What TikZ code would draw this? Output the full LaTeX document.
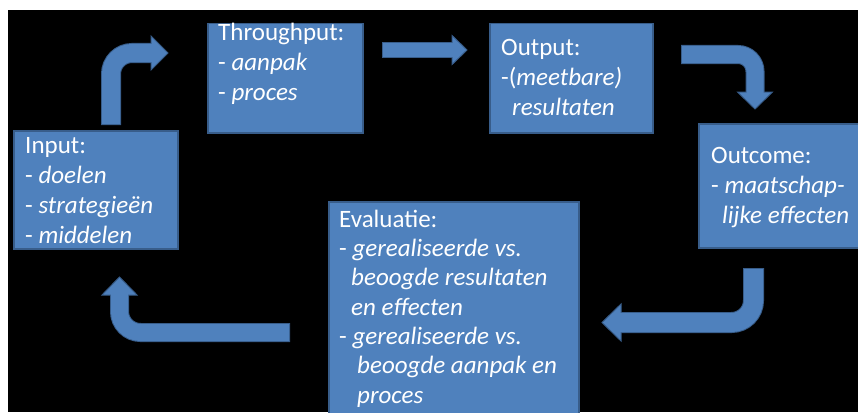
\documentclass[tikz,border=0pt]{standalone}
\usepackage{fontspec}
\setmainfont{Carlito}
\usetikzlibrary{calc}
\definecolor{boxblue}{RGB}{79,129,189}
\definecolor{rimblue}{RGB}{56,93,138}

\tikzset{
  box/.style={draw=rimblue, line width=1.5pt, fill=boxblue, inner sep=0pt, anchor=north west},
  txt/.style={text=white, align=left, anchor=base west, inner sep=0pt, font=\fontsize{25}{30}\selectfont},
  shaftrim/.style={draw=rimblue, line width=#1},
  shaftbody/.style={draw=boxblue, line width=#1},
  pics/head/.style 2 args={code={
    \filldraw[fill=boxblue, draw=rimblue, line width=1pt, line join=miter] (0,0) -- (-#2,#1) -- (-#2,-#1) -- cycle;}},
}

\begin{document}
\begin{tikzpicture}[x=1pt,y=-1pt]
  \useasboundingbox (0,0) rectangle (858,412);
  \clip (0,0) rectangle (858,412);
  \fill[white] (0,0) rectangle (858,412);
  \fill[black] (8,10) rectangle (858,412);

  % the five boxes
  \node[box, minimum width=164pt, minimum height=118pt] (input) at (13,130) {};
  \node[box, minimum width=155pt, minimum height=109pt] (through) at (207,23) {};
  \node[box, minimum width=163pt, minimum height=109pt] (output) at (489,23) {};
  \node[box, minimum width=170pt, minimum height=124pt] (outcome) at (698,123) {};
  \node[box, minimum width=250pt, minimum height=230pt] (eval) at (328,201) {};

  % input -> throughput
  \coordinate (a1) at (111,124);
  \coordinate (a1t) at (168,53);
  \draw[shaftrim=20pt, rounded corners=21pt] ($(a1)+(0,1)$) |- ($(a1t)+(-17,0)$);
  \pic at (a1t) {head={17}{17}};
  \draw[shaftbody=18pt, rounded corners=21pt] (a1) |- ($(a1t)+(-15,0)$);

  % throughput -> output
  \coordinate (a2) at (383,50);
  \coordinate (a2t) at (467,50);
  \draw[shaftrim=16pt] ($(a2)+(-1,0)$) -- ($(a2t)+(-15,0)$);
  \pic at (a2t) {head={14.5}{15}};
  \draw[shaftbody=14pt] (a2) -- ($(a2t)+(-13,0)$);

  % output -> outcome
  \coordinate (a3) at (682,54.5);
  \coordinate (a3t) at (755,109);
  \draw[shaftrim=19pt, rounded corners=17pt] ($(a3)+(-1,0)$) -| ($(a3t)+(0,-17)$);
  \pic[rotate=-90] at (a3t) {head={17.5}{17}};
  \draw[shaftbody=17pt, rounded corners=17pt] (a3) -| ($(a3t)+(0,-15)$);

  % outcome -> evaluatie
  \coordinate (a4) at (753.5,269);
  \coordinate (a4t) at (602,322.5);
  \draw[shaftrim=21pt, rounded corners=22pt] ($(a4)+(0,-1)$) |- ($(a4t)+(19,0)$);
  \pic[rotate=180] at (a4t) {head={18.5}{19}};
  \draw[shaftbody=19pt, rounded corners=22pt] (a4) |- ($(a4t)+(17,0)$);

  % evaluatie -> input
  \coordinate (a5) at (289,332.5);
  \coordinate (a5t) at (119.5,277);
  \draw[shaftrim=19pt, rounded corners=21pt] ($(a5)+(1,0)$) -| ($(a5t)+(0,18)$);
  \pic[rotate=90] at (a5t) {head={17.5}{18}};
  \draw[shaftbody=17pt, rounded corners=21pt] (a5) -| ($(a5t)+(0,16)$);

  % texts (placed by the baseline of their last line)
  \node[txt] (inputtxt) at (25,243) {Input:\\- \textit{doelen}\\- \textit{strategieën}\\- \textit{middelen}};
  \node[txt] (throughtxt) at (218,100) {Throughput:\\- \textit{aanpak}\\- \textit{proces}};
  \node[txt] (outputtxt) at (501,115) {Output:\\-(\textit{meetbare)}\\\hspace*{11pt}\textit{resultaten}};
  \node[txt] (outcometxt) at (711,223) {Outcome:\\- \textit{maatschap-}\\\hspace*{11pt}\textit{lijke effecten}};
  \node[txt, font=\fontsize{25}{29.3}\selectfont] (evaltxt) at (339,403) {Evaluatie:\\- \textit{gerealiseerde vs.}\\\hspace*{12pt}\textit{beoogde resultaten}\\\hspace*{12pt}\textit{en effecten}\\- \textit{gerealiseerde vs.}\\\hspace*{18pt}\textit{beoogde aanpak en}\\\hspace*{18pt}\textit{proces}};
\end{tikzpicture}
\end{document}
